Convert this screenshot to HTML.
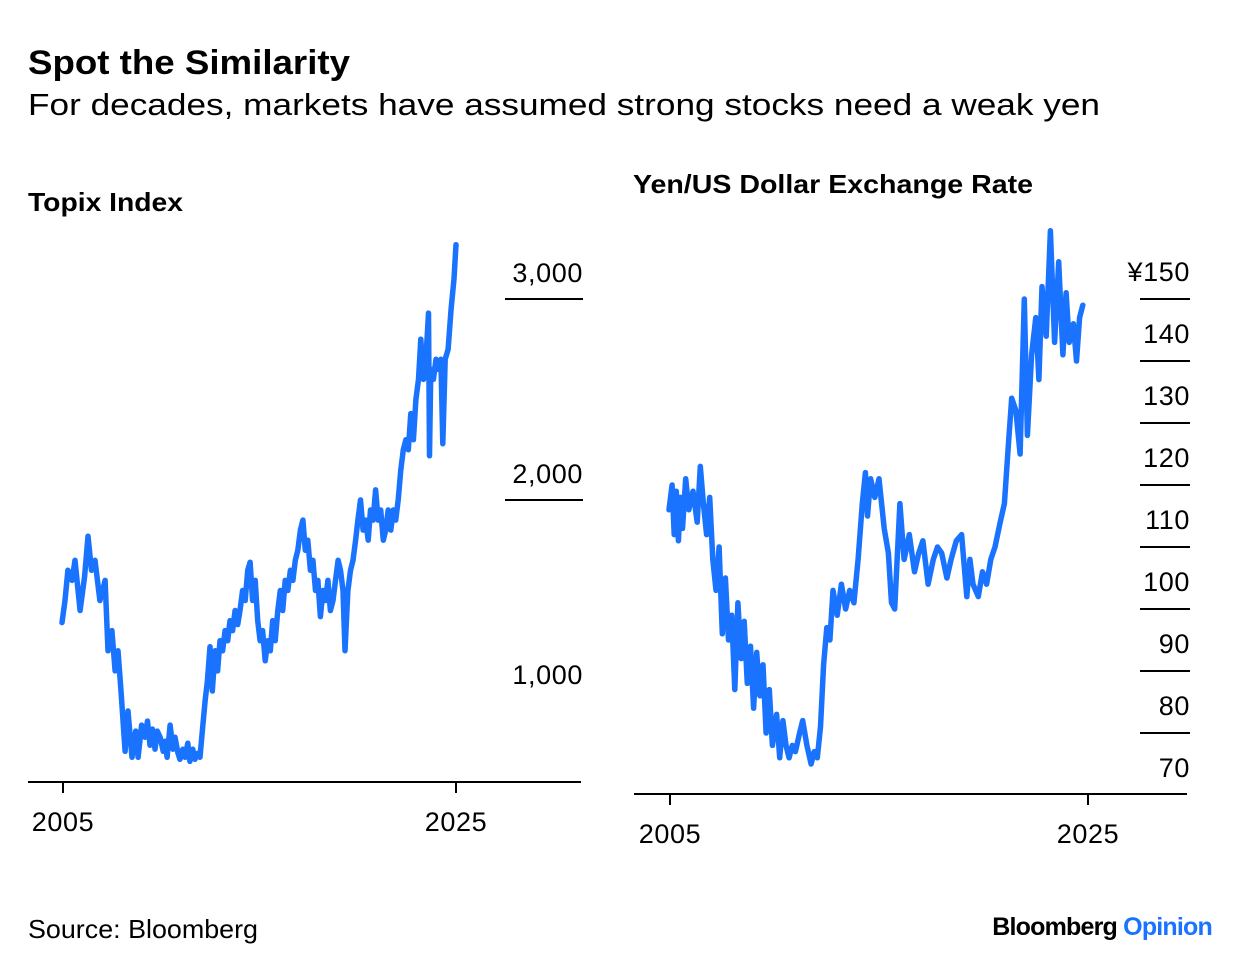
<!DOCTYPE html>
<html><head><meta charset="utf-8"><style>
body{margin:0;background:#fff;width:1240px;height:970px;overflow:hidden;font-family:"Liberation Sans",Arial,sans-serif;}
svg text{font-family:"Liberation Sans",Arial,sans-serif;}
</style></head><body>
<svg width="1240" height="970" viewBox="0 0 1240 970">
<text x="28" y="74" font-size="34" font-weight="bold" fill="#000" textLength="322" lengthAdjust="spacingAndGlyphs">Spot the Similarity</text>
<text x="28" y="115" font-size="31" fill="#000" textLength="1072" lengthAdjust="spacingAndGlyphs">For decades, markets have assumed strong stocks need a weak yen</text>
<text x="28" y="211" font-size="26" font-weight="bold" fill="#000" textLength="155" lengthAdjust="spacingAndGlyphs">Topix Index</text>
<text x="633" y="193" font-size="26" font-weight="bold" fill="#000" textLength="400" lengthAdjust="spacingAndGlyphs">Yen/US Dollar Exchange Rate</text>
<g id="left"></g>
<g id="right"></g>
<text x="28" y="938" font-size="26" fill="#000" textLength="230" lengthAdjust="spacingAndGlyphs">Source: Bloomberg</text>
<text x="1212" y="935" font-size="25" font-weight="bold" text-anchor="end" letter-spacing="-0.8"><tspan fill="#000">Bloomberg </tspan><tspan fill="#1a73ff">Opinion</tspan></text>
</svg>
<script>
const topixYears=[
2004.95,2005.1,2005.25,2005.46,2005.61,2005.87,2006.1,2006.27,
2006.45,2006.63,2006.88,2007.14,2007.29,2007.49,2007.65,2007.8,
2007.95,2008.16,2008.31,2008.51,2008.7,2008.82,2009.0,2009.17,
2009.3,2009.43,2009.55,2009.68,2009.8,2009.94,2010.1,2010.19,
2010.3,2010.45,2010.6,2010.7,2010.85,2010.95,2011.1,2011.21,
2011.35,2011.46,2011.6,2011.72,2011.85,2011.97,2012.1,2012.23,
2012.35,2012.48,2012.6,2012.74,2012.87,2012.99,2013.12,2013.25,
2013.38,2013.5,2013.63,2013.76,2013.89,2014.01,2014.14,2014.27,
2014.4,2014.52,2014.65,2014.78,2014.91,2015.03,2015.16,2015.29,
2015.42,2015.55,2015.67,2015.8,2015.93,2016.06,2016.18,2016.31,
2016.44,2016.57,2016.7,2016.82,2016.95,2017.08,2017.21,2017.33,
2017.46,2017.59,2017.72,2017.85,2017.97,2018.1,2018.23,2018.36,
2018.48,2018.61,2018.74,2018.87,2019.0,2019.12,2019.25,2019.35,
2019.5,2019.63,2019.76,2019.89,2020.01,2020.14,2020.27,2020.4,
2020.53,2020.65,2020.78,2020.91,2021.04,2021.17,2021.3,2021.42,
2021.55,2021.68,2021.81,2021.93,2022.06,2022.19,2022.32,2022.45,
2022.57,2022.7,2022.83,2022.96,2023.09,2023.21,2023.34,2023.47,
2023.6,2023.65,2023.72,2023.85,2023.98,2024.1,2024.23,2024.33,
2024.45,2024.6,2024.75,2024.9,2025.0];
const topixValues=[
1390,1500,1650,1600,1700,1450,1620,1820,
1650,1700,1500,1600,1250,1350,1150,1250,
1050,750,950,720,850,720,880,820,
900,780,860,760,850,820,750,800,
720,880,760,820,740,710,760,720,
790,700,760,710,740,720,860,1000,
1100,1270,1050,1250,1150,1300,1250,1350,
1300,1400,1350,1450,1380,1450,1550,1500,
1650,1690,1500,1600,1400,1300,1350,1200,
1300,1250,1400,1300,1450,1550,1450,1600,
1550,1650,1600,1700,1750,1850,1900,1750,
1800,1650,1700,1550,1600,1420,1550,1500,
1600,1450,1500,1600,1700,1650,1550,1250,
1550,1650,1700,1800,1900,2000,1850,1900,
1800,1950,1900,2050,1900,1950,1800,1850,
1950,1850,1950,1900,2000,2150,2250,2300,
2250,2430,2300,2500,2600,2800,2600,2700,
2930,2220,2650,2600,2700,2650,2700,2280,
2700,2750,2950,3100,3270];
const topixTicks=[1000,2000,3000];
const topixTickLabels=["1,000","2,000","3,000"];
const yenYears=[2004.95,2005.1,2005.2,2005.3,2005.4,2005.5,2005.6,2005.75,2005.9,2006.1,2006.3,2006.45,2006.6,2006.75,2006.9,2007.05,2007.2,2007.35,2007.5,2007.65,2007.8,2007.95,2008.1,2008.25,2008.4,2008.55,2008.7,2008.85,2009.0,2009.15,2009.3,2009.45,2009.6,2009.75,2009.9,2010.1,2010.25,2010.4,2010.55,2010.7,2010.85,2011.0,2011.2,2011.35,2011.55,2011.75,2011.9,2012.05,2012.2,2012.35,2012.5,2012.65,2012.8,2013.0,2013.2,2013.4,2013.6,2013.8,2014.0,2014.2,2014.35,2014.45,2014.6,2014.8,2015.0,2015.25,2015.45,2015.6,2015.75,2016.0,2016.2,2016.45,2016.7,2016.9,2017.1,2017.35,2017.6,2017.8,2018.0,2018.25,2018.45,2018.7,2018.95,2019.2,2019.35,2019.5,2019.75,2019.95,2020.15,2020.35,2020.55,2020.8,2021.0,2021.2,2021.35,2021.55,2021.75,2021.95,2022.1,2022.3,2022.5,2022.65,2022.8,2023.0,2023.2,2023.4,2023.6,2023.8,2023.95,2024.1,2024.3,2024.45,2024.6,2024.75,2024.9,2025.0];
const yenValues=[116,120,112,119,111,118,113,121,116,119,114,123,117,112,118,108,103,110,96,105,95,99,87,101,92,98,88,94,84,93,86,91,80,87,78,83,76,82,78,76,78,77,80,82,78,75,77,76,81,91,97,95,103,99,104,100,103,101,108,117,122,115,121,118,121,113,109,101,100,117,108,112,106,109,111,104,108,110,109,105,108,111,112,102,108,104,102,106,104,108,110,114,117,127,134,132,125,150,128,141,147,137,152,144,161,143,156,141,151,143,146,140,147,149];
const yenTicks=[70,80,90,100,110,120,130,140,150];
const yenTickLabels=["70","80","90","100","110","120","130","140","¥150"];
const NS="http://www.w3.org/2000/svg";
function mk(parent,tag,attrs){const e=document.createElementNS(NS,tag);for(const k in attrs)e.setAttribute(k,attrs[k]);parent.appendChild(e);return e;}
const LW=5.5, COL='#1a73ff';
// Left chart
const L=document.getElementById('left');
const lx=y=>63+(y-2005)*(456-63)/20;
const ly=v=>902-v*0.201;
const nT=Math.min(topixYears.length,topixValues.length);
let d='';
for(let i=0;i<nT;i++){d+=(i?'L':'M')+lx(topixYears[i]).toFixed(1)+','+ly(topixValues[i]).toFixed(1);}
let p=mk(L,'path',{d:d,fill:'none',stroke:COL,'stroke-width':LW,'stroke-linejoin':'round','stroke-linecap':'round'});


topixTicks.forEach((v,i)=>{
  if(v>1000){const ln=mk(L,'line',{x1:505,x2:583,y1:ly(v),y2:ly(v),stroke:'#000','stroke-width':2});
  
  }
  const t=mk(L,'text',{x:583,y:ly(v)-17,'font-size':27,'text-anchor':'end',fill:'#000','letter-spacing':0.6});t.textContent=topixTickLabels[i];
  
  
});
let ax=mk(L,'line',{x1:28,x2:581,y1:782,y2:782,stroke:'#000','stroke-width':2});


[2005,2025].forEach(y=>{
  const tk=mk(L,'line',{x1:lx(y),x2:lx(y),y1:782,y2:793,stroke:'#000','stroke-width':2});
  
  
  const t=mk(L,'text',{x:lx(y),y:831,'font-size':27,'text-anchor':'middle',fill:'#000','letter-spacing':0.6});t.textContent=y;
  
  
});
// Right chart
const R=document.getElementById('right');
const rx=y=>670+(y-2005)*(1088-670)/20;
const ry=v=>299+(150-v)*6.2;
const nY=Math.min(yenYears.length,yenValues.length);
d='';
for(let i=0;i<nY;i++){d+=(i?'L':'M')+rx(yenYears[i]).toFixed(1)+','+ry(yenValues[i]).toFixed(1);}
p=mk(R,'path',{d:d,fill:'none',stroke:COL,'stroke-width':LW,'stroke-linejoin':'round','stroke-linecap':'round'});


yenTicks.forEach((v,i)=>{
  if(v>70){const ln=mk(R,'line',{x1:1140,x2:1190,y1:ry(v),y2:ry(v),stroke:'#000','stroke-width':2});
  
  }
  const t=mk(R,'text',{x:1190,y:ry(v)-18,'font-size':27,'text-anchor':'end',fill:'#000','letter-spacing':0.6});t.textContent=yenTickLabels[i];
  
  
});
ax=mk(R,'line',{x1:634,x2:1187,y1:794,y2:794,stroke:'#000','stroke-width':2});


[2005,2025].forEach(y=>{
  const tk=mk(R,'line',{x1:rx(y),x2:rx(y),y1:794,y2:805,stroke:'#000','stroke-width':2});
  
  
  const t=mk(R,'text',{x:rx(y),y:843,'font-size':27,'text-anchor':'middle',fill:'#000','letter-spacing':0.6});t.textContent=y;
  
  
});
</script>
</body></html>
